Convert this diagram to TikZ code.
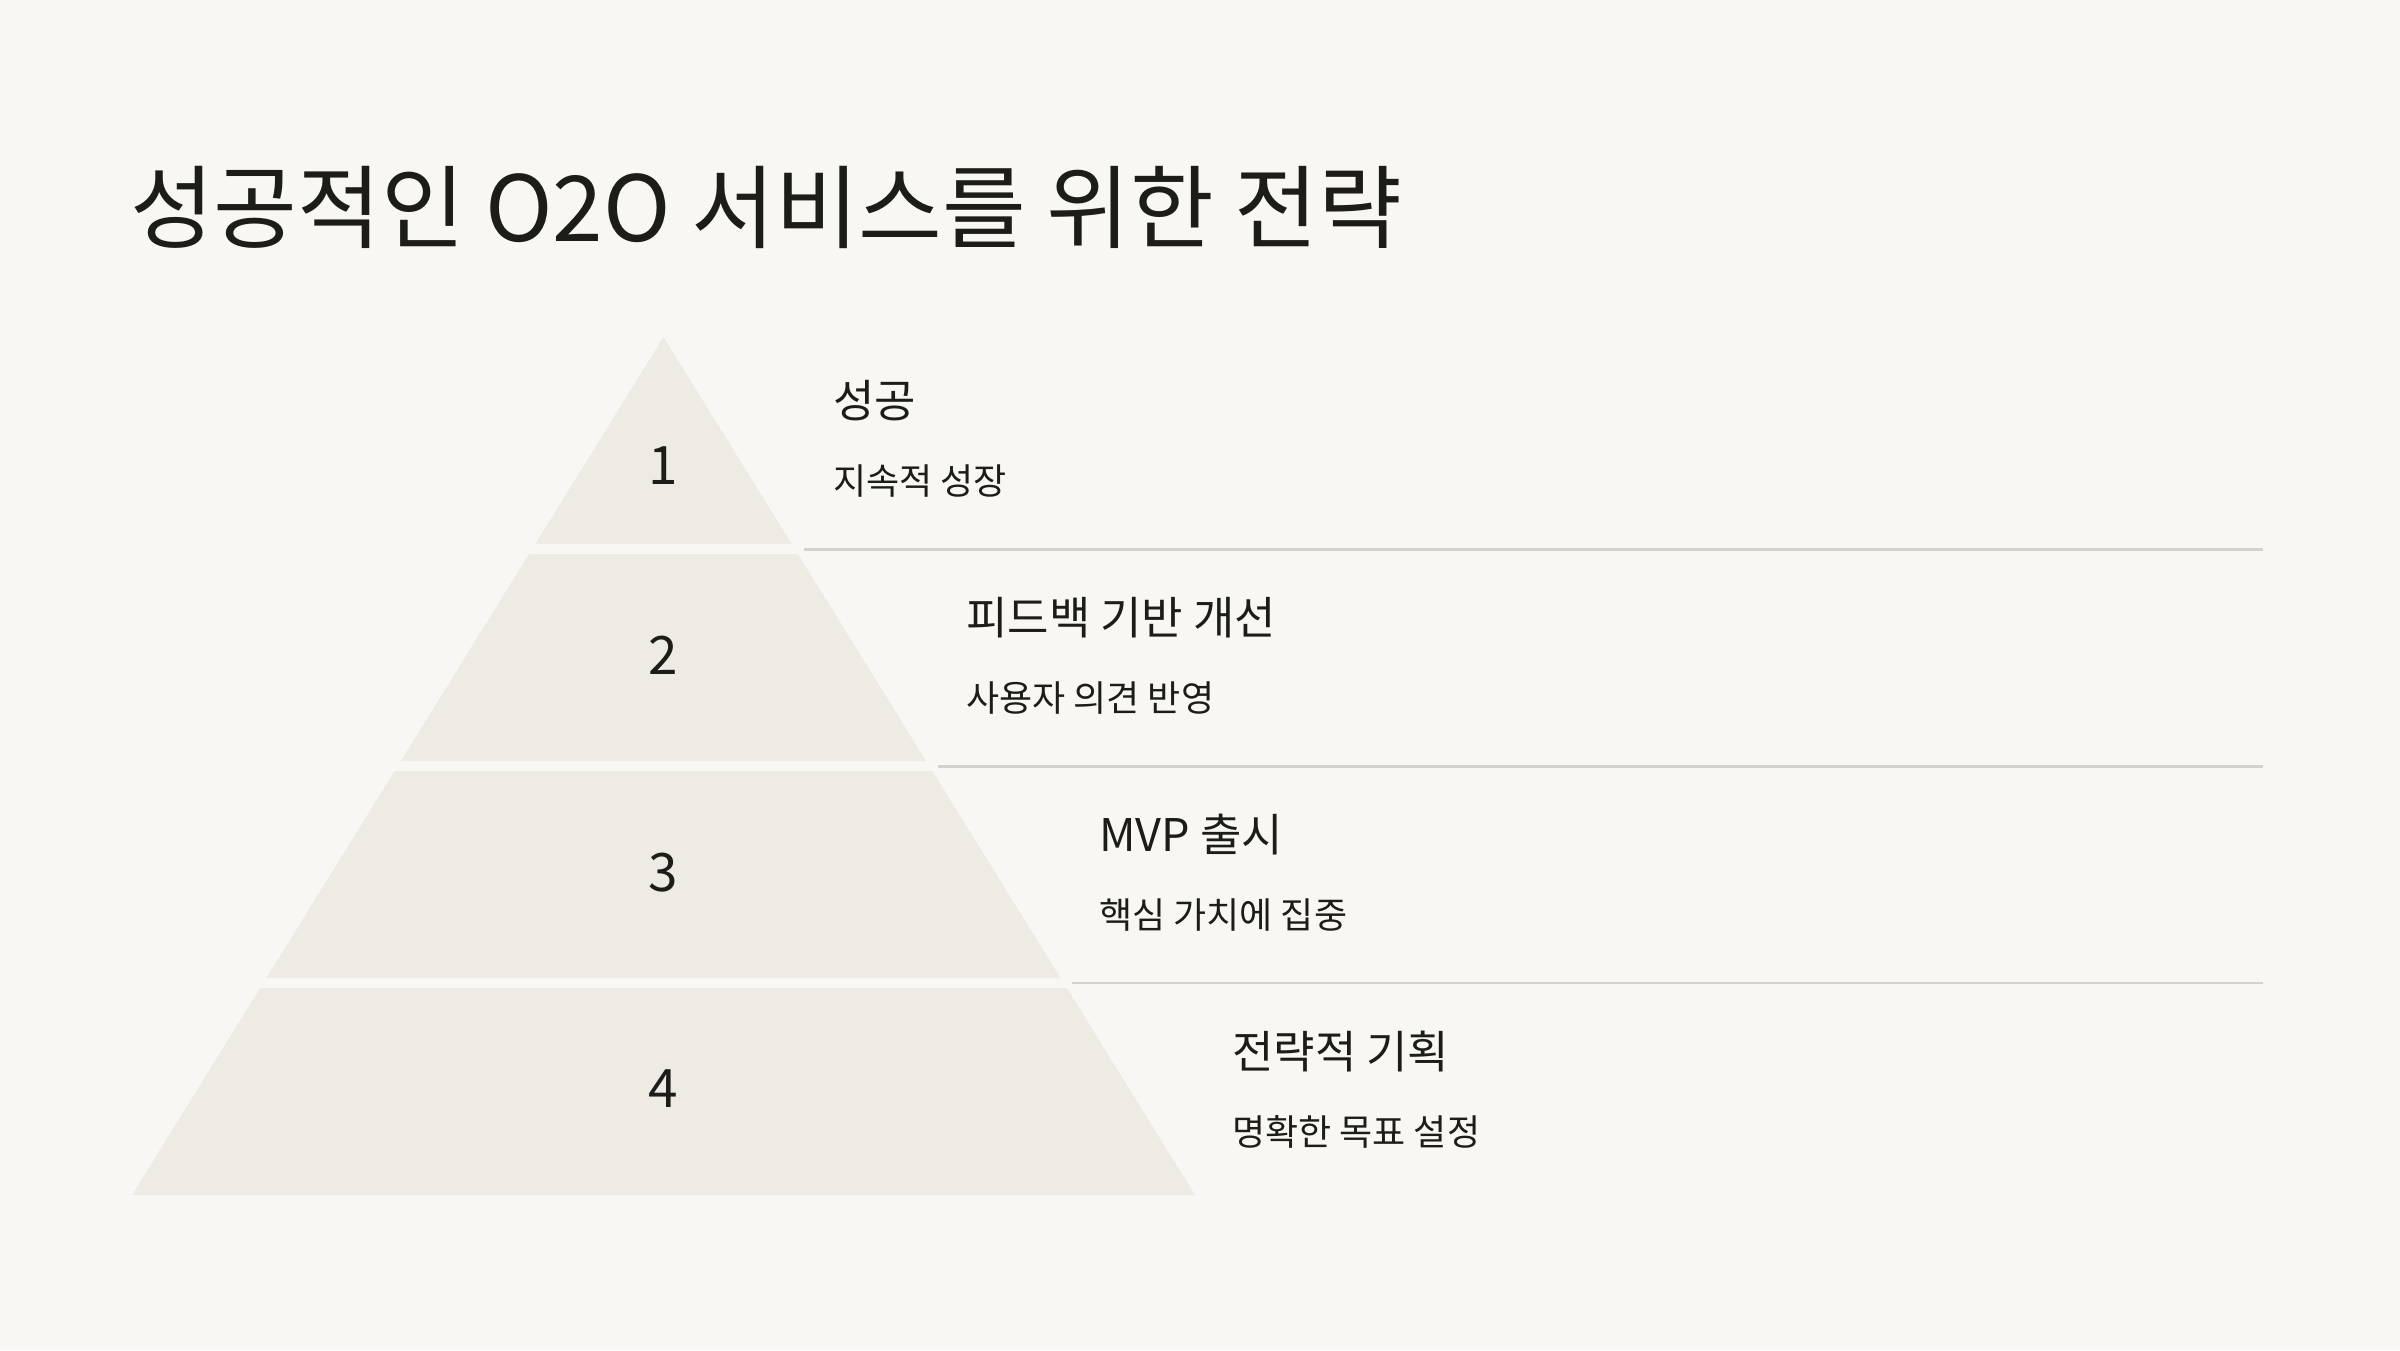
\documentclass[tikz,border=0pt]{standalone}
\usepackage{fontspec}
\setmainfont{Noto Sans CJK KR}
\newfontfamily\titlefont{Noto Sans CJK KR}
\definecolor{bg}{HTML}{F8F7F4}
\definecolor{layer}{HTML}{EDEBE4}
\definecolor{ink}{HTML}{1C1C19}
\definecolor{rule}{HTML}{D4D2CB}
\tikzset{
  layerbox/.style={fill=layer, draw=none},
  sepline/.style={draw=rule, line width=2.2pt},
  numtext/.style={anchor=base, inner sep=0pt, text=ink, font=\fontsize{53}{60}\selectfont},
  headtext/.style={anchor=base west, inner sep=0pt, text=ink, font=\fontsize{45}{52}\selectfont},
  subtext/.style={anchor=base west, inner sep=0pt, text=ink, font=\fontsize{36}{42}\selectfont},
  titletext/.style={anchor=base west, inner sep=0pt, text=ink, font=\titlefont\fontsize{91}{100}\selectfont}
}
\begin{document}
\begin{tikzpicture}[x=1pt, y=-1pt]
\path[use as bounding box, fill=bg] (0,0) rectangle (2400,1350);

% title
\node[titletext] (title) at (130,241) {성공적인 O2O 서비스를 위한 전략};

% pyramid layers
\path[layerbox] (663.5,337) -- (791.7,544) -- (535.3,544) -- cycle;
\path[layerbox] (529.1,554) -- (797.9,554) -- (926.1,761) -- (400.9,761) -- cycle;
\path[layerbox] (394.7,771) -- (932.3,771) -- (1060.6,978) -- (266.4,978) -- cycle;
\path[layerbox] (260.2,988) -- (1066.8,988) -- (1195,1195) -- (132,1195) -- cycle;

% numbers
\node[numtext] (n1) at (663.5,484) {1};
\node[numtext] (n2) at (663.5,674) {2};
\node[numtext] (n3) at (663.5,891) {3};
\node[numtext] (n4) at (663.5,1107) {4};

% separator lines
\coordinate (s1a) at (804,549.5);  \coordinate (s1b) at (2263,549.5);
\coordinate (s2a) at (938,766.5);  \coordinate (s2b) at (2263,766.5);
\coordinate (s3a) at (1072,983);   \coordinate (s3b) at (2263,983);
\draw[sepline] (s1a) -- (s1b);
\draw[sepline] (s2a) -- (s2b);
\draw[sepline] (s3a) -- (s3b);

% labels
\node[headtext] (h1) at (833,417) {성공};
\node[subtext]  (d1) at (833,494) {지속적 성장};
\node[headtext] (h2) at (966,634) {피드백 기반 개선};
\node[subtext]  (d2) at (966,711) {사용자 의견 반영};
\node[headtext] (h3) at (1099,851) {MVP 출시};
\node[subtext]  (d3) at (1099,928) {핵심 가치에 집중};
\node[headtext] (h4) at (1232,1068) {전략적 기획};
\node[subtext]  (d4) at (1232,1145) {명확한 목표 설정};
\end{tikzpicture}
\end{document}
